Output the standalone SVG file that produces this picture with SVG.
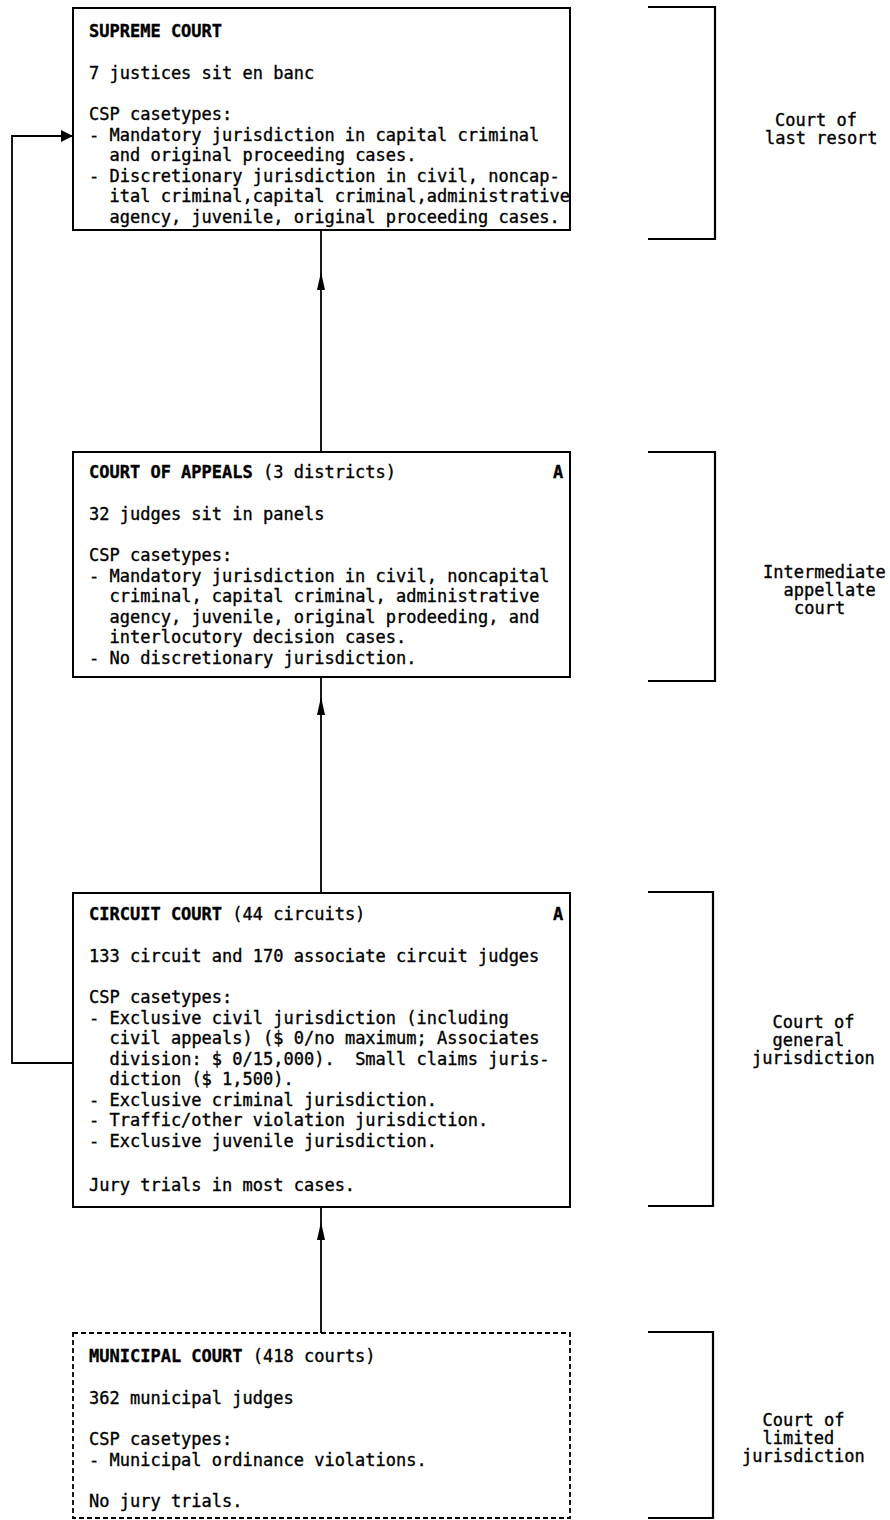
<svg xmlns="http://www.w3.org/2000/svg" width="890" height="1520" viewBox="0 0 890 1520">
<defs>
<style>
.box{fill:#fff;stroke:#000;stroke-width:2}
.dash{fill:#fff;stroke:#000;stroke-width:1.8;stroke-dasharray:5 3}
.br{fill:none;stroke:#000;stroke-width:2.2}
.con{fill:none;stroke:#000;stroke-width:1.8}
text{font-family:"DejaVu Sans Mono","Liberation Mono",monospace;font-size:17px;fill:#000;stroke:#000;stroke-width:0.35}
.b{font-weight:bold}
</style>
<marker id="up" viewBox="0 0 18 10" refX="18" refY="5" markerWidth="18" markerHeight="10" markerUnits="userSpaceOnUse" orient="auto"><path d="M0,1 L18,5 L0,9 z" fill="#000"/></marker>
<marker id="rt" viewBox="0 0 12 12" refX="12" refY="6" markerWidth="12" markerHeight="12" markerUnits="userSpaceOnUse" orient="auto"><path d="M0,0 L12,6 L0,12 z" fill="#000"/></marker>
</defs>

<g id="connectors">
<path class="con" d="M321,452 L321,272 L321,230" marker-mid="url(#up)"/>
<path class="con" d="M321,893 L321,697 L321,677" marker-mid="url(#up)"/>
<path class="con" d="M321,1333 L321,1222 L321,1207" marker-mid="url(#up)"/>
<path class="con" d="M73,1063 H12 V136 H73" marker-end="url(#rt)"/>
</g>

<g id="supreme">
<rect class="box" x="73" y="8" width="497" height="222"/>
<text class="b" x="89" y="37">SUPREME COURT</text>
<text x="89" y="79">7 justices sit en banc</text>
<text x="89" y="120">CSP casetypes:</text>
<text x="89" y="140.5">- Mandatory jurisdiction in capital criminal</text>
<text x="109.5" y="161">and original proceeding cases.</text>
<text x="89" y="181.5">- Discretionary jurisdiction in civil, noncap-</text>
<text x="109.5" y="202">ital criminal,capital criminal,administrative</text>
<text x="109.5" y="222.5">agency, juvenile, original proceeding cases.</text>
</g>

<g id="appeals">
<rect class="box" x="73" y="452" width="497" height="225"/>
<text x="89" y="478"><tspan class="b">COURT OF APPEALS</tspan> (3 districts)</text>
<text class="b" x="553" y="478">A</text>
<text x="89" y="520">32 judges sit in panels</text>
<text x="89" y="561">CSP casetypes:</text>
<text x="89" y="581.5">- Mandatory jurisdiction in civil, noncapital</text>
<text x="109.5" y="602">criminal, capital criminal, administrative</text>
<text x="109.5" y="622.5">agency, juvenile, original prodeeding, and</text>
<text x="109.5" y="643">interlocutory decision cases.</text>
<text x="89" y="663.5">- No discretionary jurisdiction.</text>
</g>

<g id="circuit">
<rect class="box" x="73" y="893" width="497" height="314"/>
<text x="89" y="920"><tspan class="b">CIRCUIT COURT</tspan> (44 circuits)</text>
<text class="b" x="553" y="920">A</text>
<text x="89" y="962">133 circuit and 170 associate circuit judges</text>
<text x="89" y="1003">CSP casetypes:</text>
<text x="89" y="1023.5">- Exclusive civil jurisdiction (including</text>
<text x="109.5" y="1044">civil appeals) ($ 0/no maximum; Associates</text>
<text x="109.5" y="1064.5" xml:space="preserve">division: $ 0/15,000).  Small claims juris-</text>
<text x="109.5" y="1085">diction ($ 1,500).</text>
<text x="89" y="1105.5">- Exclusive criminal jurisdiction.</text>
<text x="89" y="1126">- Traffic/other violation jurisdiction.</text>
<text x="89" y="1146.5">- Exclusive juvenile jurisdiction.</text>
<text x="89" y="1191">Jury trials in most cases.</text>
</g>

<g id="municipal">
<rect class="dash" x="73" y="1333" width="497" height="185"/>
<text x="89" y="1362"><tspan class="b">MUNICIPAL COURT</tspan> (418 courts)</text>
<text x="89" y="1404">362 municipal judges</text>
<text x="89" y="1445">CSP casetypes:</text>
<text x="89" y="1465.5">- Municipal ordinance violations.</text>
<text x="89" y="1507">No jury trials.</text>
</g>

<g id="level-last-resort">
<path class="br" d="M648,7 H715 V239 H648"/>
<text x="775" y="126">Court of</text>
<text x="765" y="144">last resort</text>
</g>
<g id="level-intermediate">
<path class="br" d="M648,452 H715 V681 H648"/>
<text x="763" y="578">Intermediate</text>
<text x="783.5" y="596">appellate</text>
<text x="794" y="614">court</text>
</g>
<g id="level-general">
<path class="br" d="M648,892 H713 V1206 H648"/>
<text x="772.5" y="1028">Court of</text>
<text x="772.5" y="1046">general</text>
<text x="752" y="1064">jurisdiction</text>
</g>
<g id="level-limited">
<path class="br" d="M648,1332 H713 V1518 H648"/>
<text x="762.5" y="1426">Court of</text>
<text x="762.5" y="1444">limited</text>
<text x="742" y="1462">jurisdiction</text>
</g>
</svg>
